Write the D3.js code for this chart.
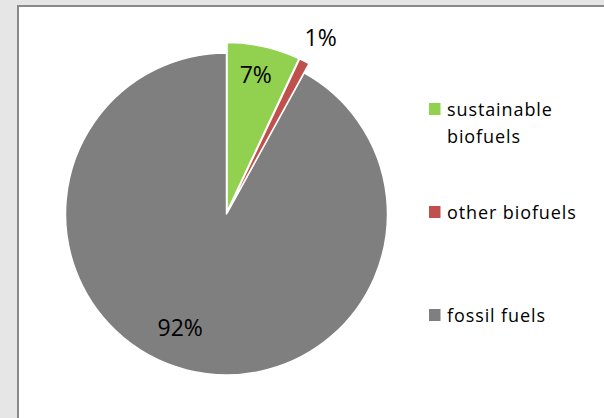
<!DOCTYPE html>
<html>
<head>
<meta charset="utf-8">
<script src="https://cdn.jsdelivr.net/npm/d3@7"></script>
<style>
  body { margin: 0; background: #e6e6e6; }
  svg { display: block; }
</style>
</head>
<body>
<div id="chart"></div>
<script>
// Chart data
const categories = ["sustainable biofuels", "other biofuels", "fossil fuels"];
const shares = [7, 1, 92];
const sliceColors = ["#92d050", "#c0504d", "#7f7f7f"];

const width = 604, height = 418;
const cx = 226.5, cy = 214;

// Pulled-out slices (green and red) sit slightly off the pie and reach further
const pullOut = [2.5, 2.5, 0];
const sliceRadius = [169, 169, 161];

// Label placement: radius from slice apex plus small nudges
const labelRadius = [141, 196, 122];
const labelNudge = [[-2, 0], [4, 0], [-16, -5]];

const svg = d3.select("#chart")
    .append("svg")
    .attr("width", width)
    .attr("height", height);

// Chart area with its grey frame
svg.append("rect")
    .attr("x", 18)
    .attr("y", 6)
    .attr("width", width)
    .attr("height", height)
    .attr("fill", "#ffffff")
    .attr("stroke", "#8a8a8a")
    .attr("stroke-width", 2);

const pie = d3.pie().sort(null).value(d => d);
const arcs = pie(shares);

const arc = d3.arc().innerRadius(0);

const plot = svg.append("g")
    .attr("transform", `translate(${cx},${cy})`);

// Draw gray slice first so pulled slices sit on top
const order = [2, 0, 1];
order.forEach(i => {
    const a = arcs[i];
    const mid = (a.startAngle + a.endAngle) / 2;
    const dx = pullOut[i] * Math.sin(mid);
    const dy = -pullOut[i] * Math.cos(mid);
    plot.append("path")
        .attr("transform", `translate(${dx},${dy})`)
        .attr("d", arc.outerRadius(sliceRadius[i])(a))
        .attr("fill", sliceColors[i])
        .attr("stroke", "#ffffff")
        .attr("stroke-width", 1.5)
        .attr("stroke-linejoin", "round");
});

// Percentage labels
arcs.forEach((a, i) => {
    const mid = (a.startAngle + a.endAngle) / 2;
    const r = labelRadius[i] + pullOut[i];
    const x = r * Math.sin(mid) + labelNudge[i][0];
    const y = -r * Math.cos(mid) + labelNudge[i][1];
    plot.append("text")
        .attr("x", x)
        .attr("y", y)
        .attr("text-anchor", "middle")
        .attr("dominant-baseline", "central")
        .style("font-family", "'Open Sans', sans-serif")
        .style("font-size", "23px")
        .style("fill", "#000")
        .text(a.data + "%");
});

// Legend
const legend = svg.append("g")
    .attr("transform", "translate(429, 116)");

const legendItems = legend.selectAll(".legend-item")
    .data(categories)
    .enter()
    .append("g")
    .attr("class", "legend-item")
    .attr("transform", (d, i) => `translate(0, ${i * 103})`);

legendItems.append("rect")
    .attr("x", 0)
    .attr("y", -13)
    .attr("width", 11.5)
    .attr("height", 12)
    .attr("fill", (d, i) => sliceColors[i]);

legendItems.append("text")
    .attr("x", 18)
    .attr("y", 0)
    .style("font-family", "'Open Sans', sans-serif")
    .style("font-size", "18px")
    .style("letter-spacing", "0.9px")
    .style("fill", "#000")
    .each(function (d) {
        // wrap long names onto a second line like the original
        const text = d3.select(this);
        const words = d.split(" ");
        let line = [];
        let tspan = text.append("tspan").attr("x", 18).attr("dy", 0);
        words.forEach(w => {
            line.push(w);
            tspan.text(line.join(" "));
            if (tspan.node().getComputedTextLength() > 150 && line.length > 1) {
                line.pop();
                tspan.text(line.join(" "));
                line = [w];
                tspan = text.append("tspan").attr("x", 18).attr("dy", 27).text(w);
            }
        });
    });
</script>
</body>
</html>
